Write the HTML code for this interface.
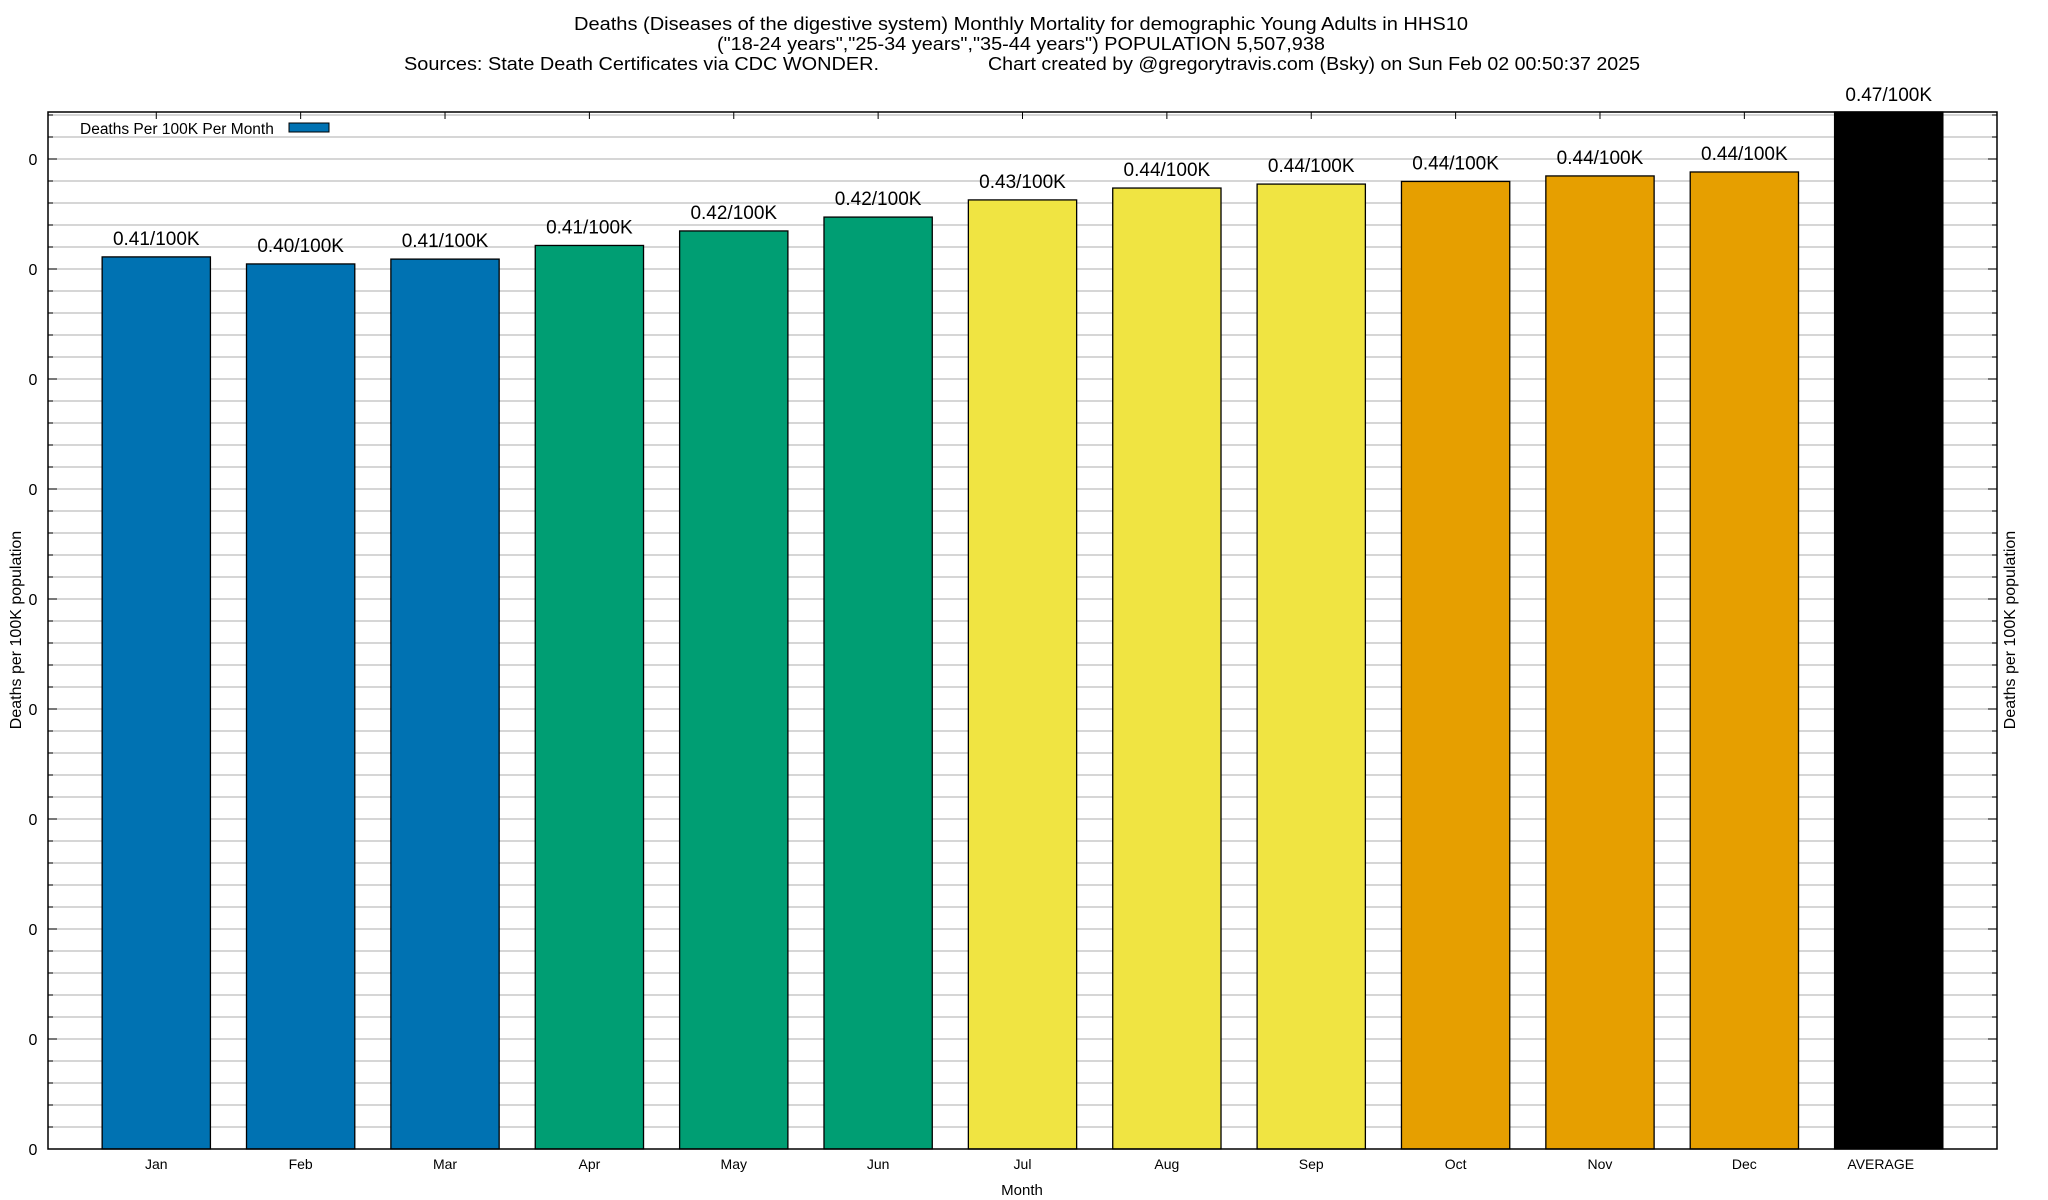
<!DOCTYPE html>
<html><head><meta charset="utf-8">
<style>
html,body{margin:0;padding:0;background:#fff;}
svg{display:block;font-family:"Liberation Sans",Arial,sans-serif;}
</style></head>
<body>
<svg id="chart" width="2048" height="1200" viewBox="0 0 2048 1200" xmlns="http://www.w3.org/2000/svg">
<g font-size="18" fill="#000">
<text x="1021" y="30" text-anchor="middle" textLength="894" lengthAdjust="spacingAndGlyphs">Deaths (Diseases of the digestive system) Monthly Mortality for demographic Young Adults in HHS10</text>
<text x="1021" y="50" text-anchor="middle" textLength="608" lengthAdjust="spacingAndGlyphs">("18-24 years","25-34 years","35-44 years") POPULATION 5,507,938</text>
<text x="404" y="70" textLength="475" lengthAdjust="spacingAndGlyphs">Sources: State Death Certificates via CDC WONDER.</text>
<text x="988" y="70" textLength="652" lengthAdjust="spacingAndGlyphs">Chart created by @gregorytravis.com (Bsky) on Sun Feb 02 00:50:37 2025</text>
</g>
<g id="grid"></g>
<g id="bars"></g>
<g id="axes"></g>
<g>
<text x="80" y="134" font-size="15.5">Deaths Per 100K Per Month</text>
<rect x="289" y="123" width="40" height="9" fill="#0072b2" stroke="#000" stroke-width="1"/>
</g>
<text transform="translate(21,630) rotate(-90)" text-anchor="middle" font-size="16">Deaths per 100K population</text>
<text transform="translate(2015,630) rotate(-90)" text-anchor="middle" font-size="16">Deaths per 100K population</text>
<text x="1022" y="1195" text-anchor="middle" font-size="15">Month</text>
</svg>
<script>
const categories = ["Jan","Feb","Mar","Apr","May","Jun","Jul","Aug","Sep","Oct","Nov","Dec","AVERAGE"];
const values = [0.4055,0.4023,0.4045,0.4107,0.4173,0.4236,0.4314,0.4368,0.4386,0.4398,0.4423,0.4441,0.475];
const valueLabels = ["0.41/100K","0.40/100K","0.41/100K","0.41/100K","0.42/100K","0.42/100K","0.43/100K","0.44/100K","0.44/100K","0.44/100K","0.44/100K","0.44/100K","0.47/100K"];
const barColors = ["#0072b2","#0072b2","#0072b2","#009e73","#009e73","#009e73","#f0e442","#f0e442","#f0e442","#e69f00","#e69f00","#e69f00","#000000"];
const yTickValues = [0,0.05,0.10,0.15,0.20,0.25,0.30,0.35,0.40,0.45];
const yTickLabels = ["0","0","0","0","0","0","0","0","0","0"];

const NS="http://www.w3.org/2000/svg";
const L=48,R=1997,T=112,B=1149;
const yMax=(B-T)/110*0.05;
function y(v){return B-(v/yMax)*(B-T);}
function x(i){return L+(i+0.75)*(R-L)/13.5;}
const bw=0.75*(R-L)/13.5;
function mk(tag,attrs,parent){const e=document.createElementNS(NS,tag);for(const k in attrs)e.setAttribute(k,attrs[k]);parent.appendChild(e);return e;}
const grid=document.getElementById('grid'),bars=document.getElementById('bars'),axes=document.getElementById('axes');
for(let v=0.01;v<yMax;v+=0.01){
 const yy=y(v);
 const g=mk('line',{x1:L,x2:R,y1:yy,y2:yy,stroke:'#bdbdbd','stroke-width':1.3},grid);
 
 
 const isMajor=Math.abs(v/0.05-Math.round(v/0.05))<1e-6;
 const tl=isMajor?9:5;
 const t1=mk('line',{x1:L,x2:L+tl,y1:yy,y2:yy,stroke:'#000','stroke-width':1},axes);
 
 
 const t2=mk('line',{x1:R-tl,x2:R,y1:yy,y2:yy,stroke:'#000','stroke-width':1},axes);
 
 
}
yTickValues.forEach((v,i)=>{
 const t=mk('text',{x:33,y:y(v)+6,'text-anchor':'middle','font-size':16},axes);
 t.textContent=yTickLabels[i];
 
 
});
categories.forEach((c,i)=>{
 const cx=x(i);
 const top=Math.max(y(values[i]),T);
 const r=mk('rect',{x:cx-bw/2,y:top,width:bw,height:B-top,fill:barColors[i],stroke:'#000','stroke-width':1.3},bars);
 
 
 const ly=Math.max(y(values[i])-12,101);
 const lbl=mk('text',{x:cx,y:ly,'text-anchor':'middle','font-size':19},bars);
 lbl.textContent=valueLabels[i];
 
 
 const xl=mk('text',{x:(i===12?cx-8:cx),y:1169,'text-anchor':'middle','font-size':14},axes);
 xl.textContent=c;
 
 
 const tt=mk('line',{x1:cx,x2:cx,y1:T,y2:T+7,stroke:'#000','stroke-width':1},axes);
 
 
});
const frame=mk('rect',{x:L,y:T,width:R-L,height:B-T,fill:'none',stroke:'#000','stroke-width':1.5},axes);


</script>
</body></html>
